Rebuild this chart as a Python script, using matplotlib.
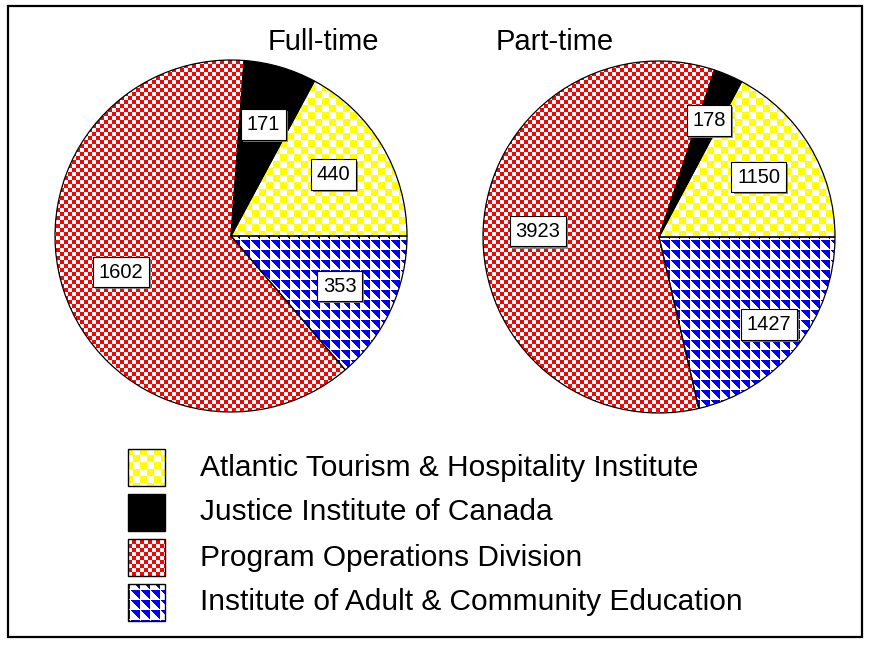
import numpy as np
import matplotlib
matplotlib.use('Agg')
import matplotlib.pyplot as plt
from matplotlib.patches import Rectangle
import matplotlib.patheffects as pe

# ---------------- data ----------------
categories = ['Atlantic Tourism & Hospitality Institute',
              'Justice Institute of Canada',
              'Program Operations Division',
              'Institute of Adult & Community Education']
full_time = [440, 171, 1602, 353]
part_time = [1150, 178, 3923, 1427]
pie_titles = ['Full-time', 'Part-time']

# ---------------- style ----------------
W, H = 870, 645
FONT = ['Liberation Sans', 'DejaVu Sans']
plt.rcParams['font.family'] = FONT

Y, X = np.mgrid[0:H, 0:W]

def checker(rgb, n):
    img = np.ones((H, W, 3))
    mask = ((X // n + Y // n) % 2 == 0)
    img[mask] = rgb
    return img

def solid(rgb):
    img = np.ones((H, W, 3))
    img[:, :] = rgb
    return img

def triangles(rgb, n):
    img = np.ones((H, W, 3))
    mask = (X % n) > (Y % n)
    img[mask] = rgb
    return img

patterns = [checker((1, 1, 0), 7),
            solid((0, 0, 0)),
            checker((1, 0, 0), 4),
            triangles((0, 0, 1), 10)]

fig = plt.figure(figsize=(W / 100, H / 100), dpi=100)
ax = fig.add_axes([0, 0, 1, 1])

pie_specs = [(full_time, (231, H - 236), [0.68, 0.66, 0.66, 0.68]),
             (part_time, (659, H - 237), [0.66, 0.72, 0.69, 0.80])]
R = 176

for (vals, center, dists), title in zip(pie_specs, pie_titles):
    wedges, _ = ax.pie(vals, radius=R, center=center, startangle=0,
                       counterclock=True, frame=True,
                       wedgeprops=dict(facecolor='none', edgecolor='black',
                                       linewidth=0.9))
    for w, pat, v, d in zip(wedges, patterns, vals, dists):
        w.set_zorder(3)
        im = ax.imshow(pat, extent=(0, W, 0, H), origin='upper',
                       interpolation='nearest', zorder=2)
        im.set_clip_path(w)
        mid = np.deg2rad((w.theta1 + w.theta2) / 2)
        tx = center[0] + d * R * np.cos(mid)
        ty = center[1] + d * R * np.sin(mid)
        t = ax.text(tx, ty, f'{v}', ha='center', va='center', fontsize=14.5,
                    zorder=5,
                    bbox=dict(boxstyle='square,pad=0.28', fc='white',
                              ec='black', lw=0.8))
        t.get_bbox_patch().set_path_effects(
            [pe.SimplePatchShadow(offset=(1.5, -1.5), shadow_rgbFace='0.5',
                                  alpha=0.9), pe.Normal()])

ax.text(323, H - 50, pie_titles[0], ha='center', va='baseline', fontsize=21)
ax.text(555, H - 50, pie_titles[1], ha='center', va='baseline', fontsize=21)

# legend
for i, (cat, pat) in enumerate(zip(categories, patterns)):
    top = 449 + i * 45
    rect = Rectangle((128, H - top - 37), 37, 37, facecolor='none',
                     edgecolor='black', linewidth=1, zorder=3)
    ax.add_patch(rect)
    im = ax.imshow(pat, extent=(0, W, 0, H), origin='upper',
                   interpolation='nearest', zorder=2)
    im.set_clip_path(rect)
    ax.text(200, H - top - 18.5, cat, ha='left', va='center', fontsize=21.5)

# outer frame
ax.add_patch(Rectangle((8, H - 637), 854, 631, facecolor='none',
                       edgecolor='black', linewidth=1.6, zorder=6))

ax.set_xlim(0, W)
ax.set_ylim(0, H)
ax.set_aspect('auto')
ax.axis('off')

fig.savefig('out.png', dpi=100)
